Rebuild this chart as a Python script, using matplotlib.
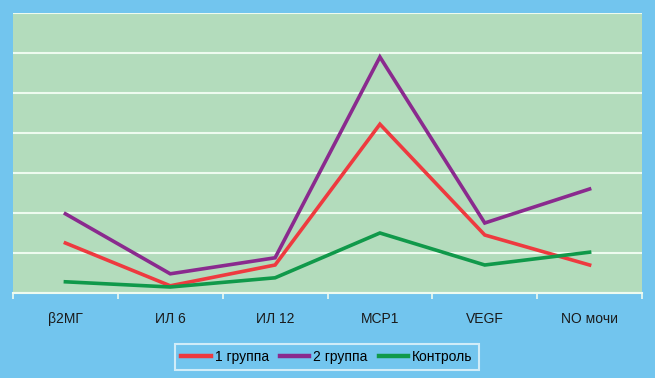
import matplotlib
matplotlib.use("Agg")
import matplotlib.pyplot as plt
import numpy as np

plt.rcParams["font.family"] = ["Liberation Sans", "DejaVu Sans"]

categories = ["β2МГ", "ИЛ 6", "ИЛ 12", "МСР1", "VEGF", "NO мочи"]
group1 = [1.25, 0.18, 0.70, 4.22, 1.45, 0.70]
group2 = [1.98, 0.48, 0.88, 5.90, 1.75, 2.60]
control = [0.28, 0.15, 0.38, 1.50, 0.70, 1.02]

series = [
    ("1 группа", group1, "#ee3a3f"),
    ("2 группа", group2, "#8a2a8e"),
    ("Контроль", control, "#10994a"),
]

fig = plt.figure(figsize=(6.55, 3.78), dpi=100)
fig.patch.set_facecolor("#72c5ee")
ax = fig.add_axes([13 / 655, 85 / 378, 629 / 655, 280 / 378])
ax.set_facecolor("#b3dcbc")

x = np.arange(len(categories))
for label, vals, color in series:
    ax.plot(x, vals, color=color, lw=2.6, label=label, solid_joinstyle="miter")

ax.set_xlim(-0.5, len(categories) - 0.5)
ax.set_ylim(0, 7)
ax.set_yticks(np.arange(0, 8))
ax.tick_params(axis="y", left=False, labelleft=False)
ax.grid(axis="y", color="#eefbef", lw=1.5)
ax.set_axisbelow(True)

ax.set_xticks(x)
ax.set_xticklabels(categories, fontsize=10, color="#1a1a1a")
ax.tick_params(axis="x", which="major", length=0, pad=14)
ax.set_xticks(np.arange(-0.5, len(categories)), minor=True)
ax.tick_params(axis="x", which="minor", length=4, color="#eefbef", width=1.2)

for side in ["top", "right", "left"]:
    ax.spines[side].set_visible(False)
ax.spines["bottom"].set_color("#eefbef")
ax.spines["bottom"].set_linewidth(1.5)

leg = fig.legend(loc="center", bbox_to_anchor=(327 / 655, 1 - 357 / 378), ncol=3,
                 frameon=True, fontsize=10, handlelength=2.1, handletextpad=0.3,
                 columnspacing=0.8, fancybox=False, borderpad=0.45,
                 handleheight=0.6)
leg.get_frame().set_facecolor("#72c5ee")
leg.get_frame().set_edgecolor("#e8f6fb")
leg.get_frame().set_linewidth(1.5)
for line in leg.get_lines():
    line.set_linewidth(3.2)

fig.savefig("out.png", dpi=100, facecolor=fig.get_facecolor())
